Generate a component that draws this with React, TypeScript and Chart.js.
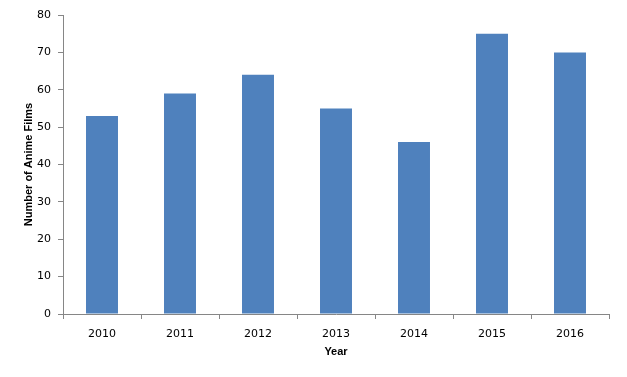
import React, { useEffect, useRef } from "react";
import { Chart, registerables } from "chart.js";

Chart.register(...registerables);

const categories = ["2010", "2011", "2012", "2013", "2014", "2015", "2016"];
const filmCounts = [53, 59, 64, 55, 46, 75, 70];
const yTicks = { min: 0, max: 80, step: 10 };

export default function App() {
  const ref = useRef<HTMLCanvasElement>(null);
  useEffect(() => {
    document.body.style.margin = "0";
    const ctx = ref.current!;
    const tickFont = "'DejaVu Sans', Verdana, sans-serif";
    const titleFont = "'Liberation Sans', Arial, sans-serif";
    const chart = new Chart(ctx, {
      type: "bar",
      data: {
        labels: categories,
        datasets: [
          {
            data: filmCounts,
            backgroundColor: "#4F81BD",
            barPercentage: 0.41,
            categoryPercentage: 1,
          },
        ],
      },
      options: {
        animation: false,
        responsive: false,
        maintainAspectRatio: false,
        layout: { padding: { top: 15, right: 18, left: 22, bottom: 18 } },
        plugins: { legend: { display: false }, tooltip: { enabled: false } },
        scales: {
          x: {
            offset: true,
            grid: {
              offset: true,
              drawOnChartArea: false,
              tickLength: 5,
              color: "#868686",
            },
            border: { color: "#868686" },
            ticks: { color: "#000", font: { family: tickFont, size: 11 }, padding: 9 },
            title: {
              display: true,
              text: "Year",
              color: "#000",
              font: { family: titleFont, size: 11, weight: "bold" },
              padding: { top: 0, bottom: 0 },
            },
            afterFit: (s: any) => {
              s.height = 45;
            },
          },
          y: {
            min: yTicks.min,
            max: yTicks.max,
            ticks: {
              stepSize: yTicks.step,
              color: "#000",
              font: { family: tickFont, size: 11 },
              padding: 7,
            },
            grid: { drawOnChartArea: false, tickLength: 5, color: "#868686" },
            border: { color: "#868686" },
            title: {
              display: true,
              text: "Number of Anime Films",
              color: "#000",
              font: { family: titleFont, size: 11, weight: "bold" },
              padding: { top: 0, bottom: 0 },
            },
            afterFit: (s: any) => {
              s.width = 41;
            },
          },
        },
      },
    });
    return () => chart.destroy();
  }, []);
  return <canvas ref={ref} width={627} height={377} style={{ display: "block" }} />;
}
